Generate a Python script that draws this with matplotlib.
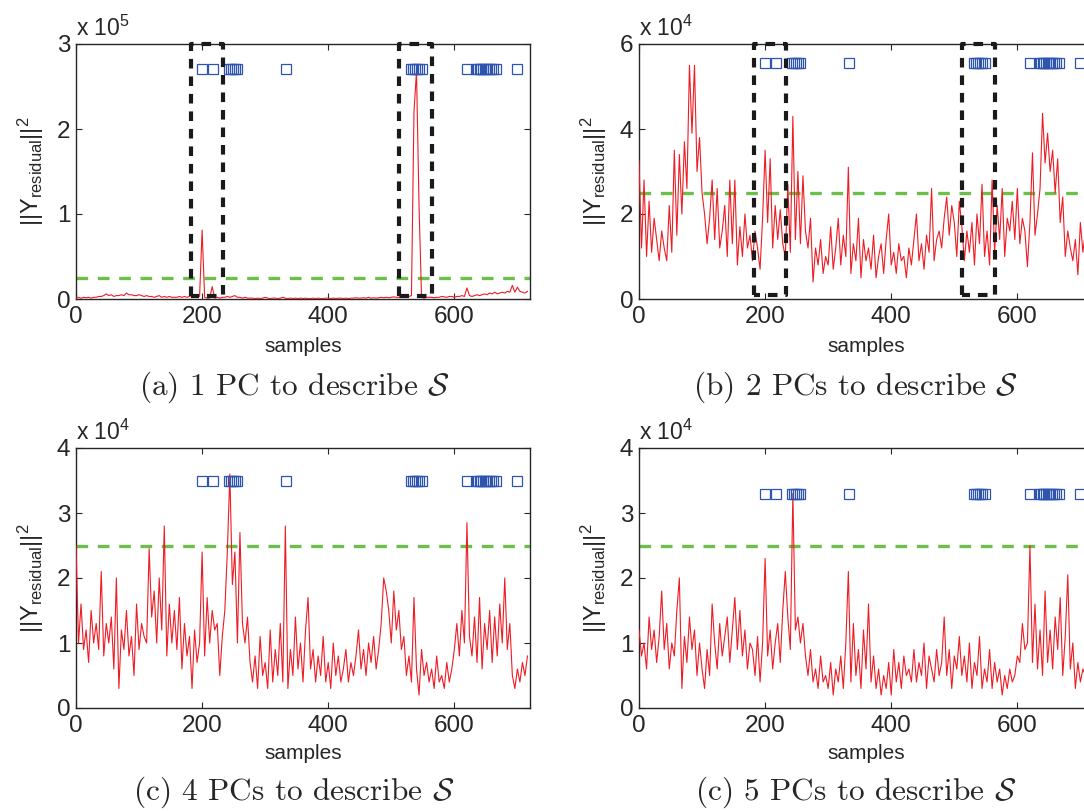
import numpy as np
import matplotlib
matplotlib.use("Agg")
import matplotlib.pyplot as plt

plt.rcParams["font.family"] = ["Liberation Sans", "DejaVu Sans"]
plt.rcParams["mathtext.fontset"] = "custom"
plt.rcParams["mathtext.rm"] = "Liberation Sans"
plt.rcParams["mathtext.it"] = "Liberation Sans:italic"
plt.rcParams["mathtext.cal"] = "cmsy10"

# ---------------------------------------------------------------------------
# Theme
# ---------------------------------------------------------------------------
_RED   = "#ee1c24"
_GREEN = "#6cbf4a"
_BLUE  = "#2d55b0"
_BLACK = "#1a1a1a"
_AXIS  = "#262626"

# ---------------------------------------------------------------------------
# Data (residual norm every 4th sample)
# ---------------------------------------------------------------------------
samples = np.arange(0, 720, 4)

# 1 PC, in units of 1e5
resid_1pc = [
    0.01, 0.02, 0.01, 0.02, 0.015, 0.02, 0.01, 0.02, 0.02, 0.03,
    0.03, 0.04, 0.06, 0.04, 0.05, 0.03, 0.04, 0.04, 0.05, 0.04,
    0.07, 0.05, 0.05, 0.04, 0.04, 0.05, 0.04, 0.03, 0.04, 0.03,
    0.03, 0.02, 0.03, 0.04, 0.02, 0.03, 0.02, 0.03, 0.02, 0.02,
    0.02, 0.03, 0.02, 0.03, 0.02, 0.03, 0.04, 0.03, 0.05, 0.03,
    0.81, 0.02, 0.01, 0.01, 0.145, 0.01, 0.02, 0.01, 0.02, 0.02,
    0.03, 0.02, 0.03, 0.04, 0.02, 0.02, 0.01, 0.02, 0.01, 0.01,
    0.01, 0.005, 0.01, 0.005, 0.01, 0.02, 0.01, 0.005, 0.01, 0.01,
    0.005, 0.01, 0.02, 0.01, 0.005, 0.01, 0.005, 0.01, 0.005, 0.01,
    0.005, 0.01, 0.005, 0.005, 0.01, 0.005, 0.01, 0.005, 0.005, 0.01,
    0.01, 0.005, 0.01, 0.005, 0.01, 0.01, 0.005, 0.01, 0.005, 0.01,
    0.01, 0.015, 0.01, 0.01, 0.015, 0.01, 0.02, 0.01, 0.015, 0.01,
    0.015, 0.02, 0.015, 0.02, 0.015, 0.02, 0.025, 0.02, 0.02, 0.02,
    0.02, 0.03, 0.03, 0.04, 2.2, 2.68, 1.1, 0.02, 0.01, 0.02,
    0.02, 0.02, 0.015, 0.02, 0.02, 0.03, 0.025, 0.02, 0.03, 0.03,
    0.02, 0.03, 0.03, 0.04, 0.03, 0.13, 0.04, 0.03, 0.04, 0.05,
    0.04, 0.05, 0.06, 0.05, 0.07, 0.06, 0.08, 0.06, 0.07, 0.08,
    0.07, 0.09, 0.08, 0.16, 0.08, 0.14, 0.09, 0.08, 0.07, 0.09,
]

# 2 PCs, in units of 1e4
resid_2pc = [
    3.25, 1.2, 2.8, 1.0, 2.3, 1.1, 1.9, 1.4, 0.9, 1.6,
    1.2, 0.9, 2.2, 1.1, 3.5, 1.5, 3.4, 2.0, 3.7, 2.6,
    5.5, 3.9, 5.5, 3.0, 3.8, 2.5, 2.0, 1.3, 1.9, 2.8,
    1.4, 2.6, 1.2, 1.6, 2.2, 1.0, 2.8, 1.3, 2.8, 0.8,
    1.7, 1.0, 2.0, 1.2, 1.5, 0.9, 1.6, 1.2, 0.7, 1.9,
    3.5, 1.8, 3.3, 1.2, 2.2, 1.4, 2.1, 1.3, 1.0, 2.7,
    1.1, 4.3, 1.4, 3.0, 1.3, 2.9, 1.6, 1.2, 1.9, 0.4,
    1.2, 0.8, 1.4, 0.6, 1.0, 0.8, 1.7, 0.7, 1.2, 1.9,
    0.8, 1.5, 1.0, 3.1, 0.6, 1.3, 0.9, 1.9, 0.5, 1.4,
    0.9, 1.2, 0.7, 1.5, 0.5, 1.0, 1.3, 0.6, 1.4, 2.0,
    0.8, 1.1, 0.6, 1.3, 0.9, 1.0, 0.5, 1.2, 0.8, 1.4,
    2.0, 0.9, 1.3, 0.7, 1.5, 1.1, 2.6, 0.9, 1.4, 1.6,
    1.2, 1.9, 2.4, 1.5, 2.2, 1.8, 1.0, 2.3, 1.7, 0.9,
    1.6, 1.1, 1.8, 0.8, 2.0, 1.3, 2.7, 1.0, 1.6, 0.8,
    2.8, 1.1, 2.2, 1.4, 2.6, 1.0, 1.9, 1.6, 2.3, 1.4,
    2.6, 1.3, 1.9, 1.6, 0.76, 1.8, 3.44, 1.5, 2.0, 2.6,
    4.37, 3.2, 3.9, 3.0, 3.5, 2.5, 3.3, 1.8, 2.4, 1.0,
    1.6, 1.2, 0.9, 1.4, 0.57, 1.8, 1.1, 1.6, 1.4, 1.2,
]

# 4 PCs, in units of 1e4
resid_4pc = [
    2.5, 1.0, 1.6, 0.9, 1.2, 0.7, 1.5, 1.0, 1.3, 0.9,
    2.1, 0.8, 1.3, 1.0, 1.4, 0.6, 2.0, 0.3, 1.2, 0.9,
    1.5, 0.8, 1.1, 0.5, 1.6, 0.9, 1.3, 1.1, 1.0, 2.45,
    1.4, 1.8, 1.0, 2.0, 1.2, 2.8, 0.8, 1.6, 1.0, 1.5,
    0.9, 1.7, 0.6, 1.3, 0.8, 1.1, 0.3, 1.2, 0.7, 1.0,
    2.4, 0.8, 1.7, 1.0, 1.5, 1.2, 1.3, 0.5, 1.1, 1.5,
    2.4, 3.6, 1.9, 2.4, 1.0, 2.7, 1.3, 1.0, 1.4, 0.7,
    0.4, 0.8, 0.3, 1.1, 0.5, 0.7, 0.3, 1.2, 0.4, 0.9,
    0.5, 1.3, 0.4, 2.8, 0.3, 0.9, 0.5, 1.4, 0.6, 1.0,
    0.4, 1.2, 1.7, 0.6, 0.9, 0.4, 0.8, 0.5, 1.1, 0.4,
    0.7, 0.3, 1.0, 0.5, 0.8, 0.4, 0.6, 0.9, 0.4, 0.7,
    0.5, 0.8, 1.2, 0.6, 0.9, 0.5, 1.0, 0.7, 1.1, 0.6,
    0.9, 1.3, 2.0, 1.8, 1.5, 1.0, 1.8, 1.2, 1.5, 0.9,
    1.1, 0.5, 0.8, 0.4, 1.7, 0.6, 0.2, 0.9, 0.5, 0.7,
    0.4, 0.6, 0.3, 0.8, 0.4, 0.5, 0.3, 0.7, 0.4, 0.6,
    0.9, 1.3, 0.8, 1.5, 1.0, 2.85, 1.1, 0.8, 1.4, 0.7,
    1.7, 0.6, 1.3, 0.9, 1.5, 0.7, 1.4, 0.8, 1.6, 1.0,
    2.0, 0.9, 1.3, 0.5, 0.3, 0.6, 0.4, 0.7, 0.5, 0.8,
]

# 5 PCs, in units of 1e4
resid_5pc = [
    1.2, 0.8, 1.0, 0.6, 1.4, 0.9, 1.2, 0.7, 1.1, 1.8,
    0.9, 1.3, 0.6, 1.0, 0.8, 1.5, 2.0, 0.3, 1.1, 0.7,
    1.4, 0.9, 1.2, 0.5, 1.0, 0.6, 0.3, 0.9, 0.5, 1.6,
    1.0, 0.6, 1.3, 0.8, 1.1, 1.4, 0.7, 1.2, 1.7, 0.9,
    1.5, 0.8, 1.2, 0.6, 1.0, 0.9, 0.5, 1.1, 0.4, 1.0,
    2.3, 0.8, 1.2, 0.6, 1.0, 1.3, 0.7, 1.5, 2.1, 1.4,
    0.9, 3.3, 1.2, 1.4, 1.0, 1.3, 0.8, 0.5, 0.9, 0.4,
    0.6, 0.3, 0.8, 0.4, 0.5, 0.3, 0.7, 0.2, 0.6, 0.4,
    0.8, 0.3, 1.0, 2.1, 0.4, 1.3, 0.5, 0.9, 0.3, 1.2,
    0.6, 1.6, 0.4, 0.8, 0.3, 0.6, 0.2, 0.5, 0.3, 0.7,
    0.2, 0.9, 0.4, 0.7, 0.3, 0.8, 0.5, 0.6, 0.4, 0.9,
    0.4, 0.7, 0.5, 1.0, 0.3, 0.8, 0.6, 0.4, 0.9, 0.5,
    0.7, 1.4, 0.5, 0.9, 0.3, 0.8, 0.6, 1.1, 0.5, 0.8,
    0.4, 1.0, 0.3, 0.7, 0.5, 1.1, 0.3, 0.6, 0.4, 0.9,
    0.3, 0.7, 0.4, 0.6, 0.2, 0.5, 0.3, 0.6, 0.4, 0.5,
    0.8, 0.7, 1.3, 0.9, 1.0, 2.5, 0.7, 1.6, 0.6, 1.2,
    0.5, 1.8, 0.7, 1.2, 0.6, 1.4, 0.9, 1.7, 0.5, 1.1,
    2.05, 0.6, 1.0, 0.3, 0.7, 0.4, 0.6, 0.5, 0.8, 0.5,
]

# samples flagged as anomalous (blue squares)
flagged = [200, 217, 243, 246, 249, 252, 256, 333,
           532, 535, 538, 541, 544, 548,
           620, 634, 637, 640, 643, 646, 649, 652, 655, 658, 661, 666, 700]

# ground-truth anomaly windows (black dashed boxes)
windows = [(183, 233), (513, 565)]

threshold = 2.5e4

# ---------------------------------------------------------------------------
# Figure
# ---------------------------------------------------------------------------
fig = plt.figure(figsize=(10.84, 8.11), dpi=100)

W = 454 / 1084
panels = [
    # rect, values, exponent, ymax, yticks, square y, boxes, box bottom, caption, caption xy
    ([76 / 1084, 1 - 299 / 811, W, 255 / 811], resid_1pc, 5, 3, [0, 1, 2, 3], 2.7, True, 0.03,
     r"(a) 1 PC to describe $\mathcal{S}$", (0.272, 0.522)),
    ([639 / 1084, 1 - 299 / 811, W, 255 / 811], resid_2pc, 4, 6, [0, 2, 4, 6], 5.55, True, 0.1,
     r"(b) 2 PCs to describe $\mathcal{S}$", (0.789, 0.522)),
    ([76 / 1084, 1 - 708 / 811, W, 260 / 811], resid_4pc, 4, 4, [0, 1, 2, 3, 4], 3.5, False, 0,
     r"(c) 4 PCs to describe $\mathcal{S}$", (0.271, 0.0235)),
    ([639 / 1084, 1 - 708 / 811, W, 260 / 811], resid_5pc, 4, 4, [0, 1, 2, 3, 4], 3.3, False, 0,
     r"(c) 5 PCs to describe $\mathcal{S}$", (0.789, 0.0235)),
]

for rect, vals, exp, ymax, yticks, sq_y, boxes, box_bot, caption, cxy in panels:
    ax = fig.add_axes(rect)
    thr = threshold / 10 ** exp
    top_row = rect[1] > 0.5

    ax.plot(samples, vals, color=_RED, lw=0.8, zorder=3)
    ax.axhline(thr, color=_GREEN, lw=2.4, dashes=(3.5, 2.9), zorder=2)
    ax.plot(flagged, [sq_y] * len(flagged), ls="none", marker="s", ms=6.5,
            mfc="none", mec=_BLUE, mew=0.9, zorder=4)

    if boxes:
        for x0, x1 in windows:
            ax.plot([x0, x0, x1, x1, x0], [box_bot, ymax, ymax, box_bot, box_bot],
                    color=_BLACK, lw=3.0, dashes=(2.3, 1.9), clip_on=False, zorder=5)

    ax.set_xlim(0, 720)
    ax.set_ylim(0, ymax)
    ax.set_xticks([0, 200, 400, 600])
    ax.set_yticks(yticks)
    ax.tick_params(direction="in", length=4, width=0.8, top=True, right=True,
                   labelsize=17.5, colors=_AXIS)
    ax.tick_params(axis="x", pad=5)
    ax.tick_params(axis="y", pad=4)
    for spine in ax.spines.values():
        spine.set_edgecolor(_AXIS)
        spine.set_linewidth(1.0)

    ax.set_xlabel("samples", fontsize=15, color=_AXIS)
    ax.xaxis.set_label_coords(0.5, -0.15 if top_row else -0.138)
    ax.set_ylabel(r"$||\mathrm{Y}_{\mathrm{residual}}||^{2}$", fontsize=17, color=_AXIS)
    ax.yaxis.set_label_coords(-0.067, 0.5)

    ax.text(0.0, 1.033, r"x 10$^{%d}$" % exp, transform=ax.transAxes,
            ha="left", va="baseline", fontsize=16.5, color=_AXIS)

    fig.text(cxy[0], cxy[1], caption, ha="center", va="center", fontsize=22.5,
             family="cmr10", color=_AXIS)

fig.savefig("out.png", dpi=100, facecolor="white")
plt.close(fig)
